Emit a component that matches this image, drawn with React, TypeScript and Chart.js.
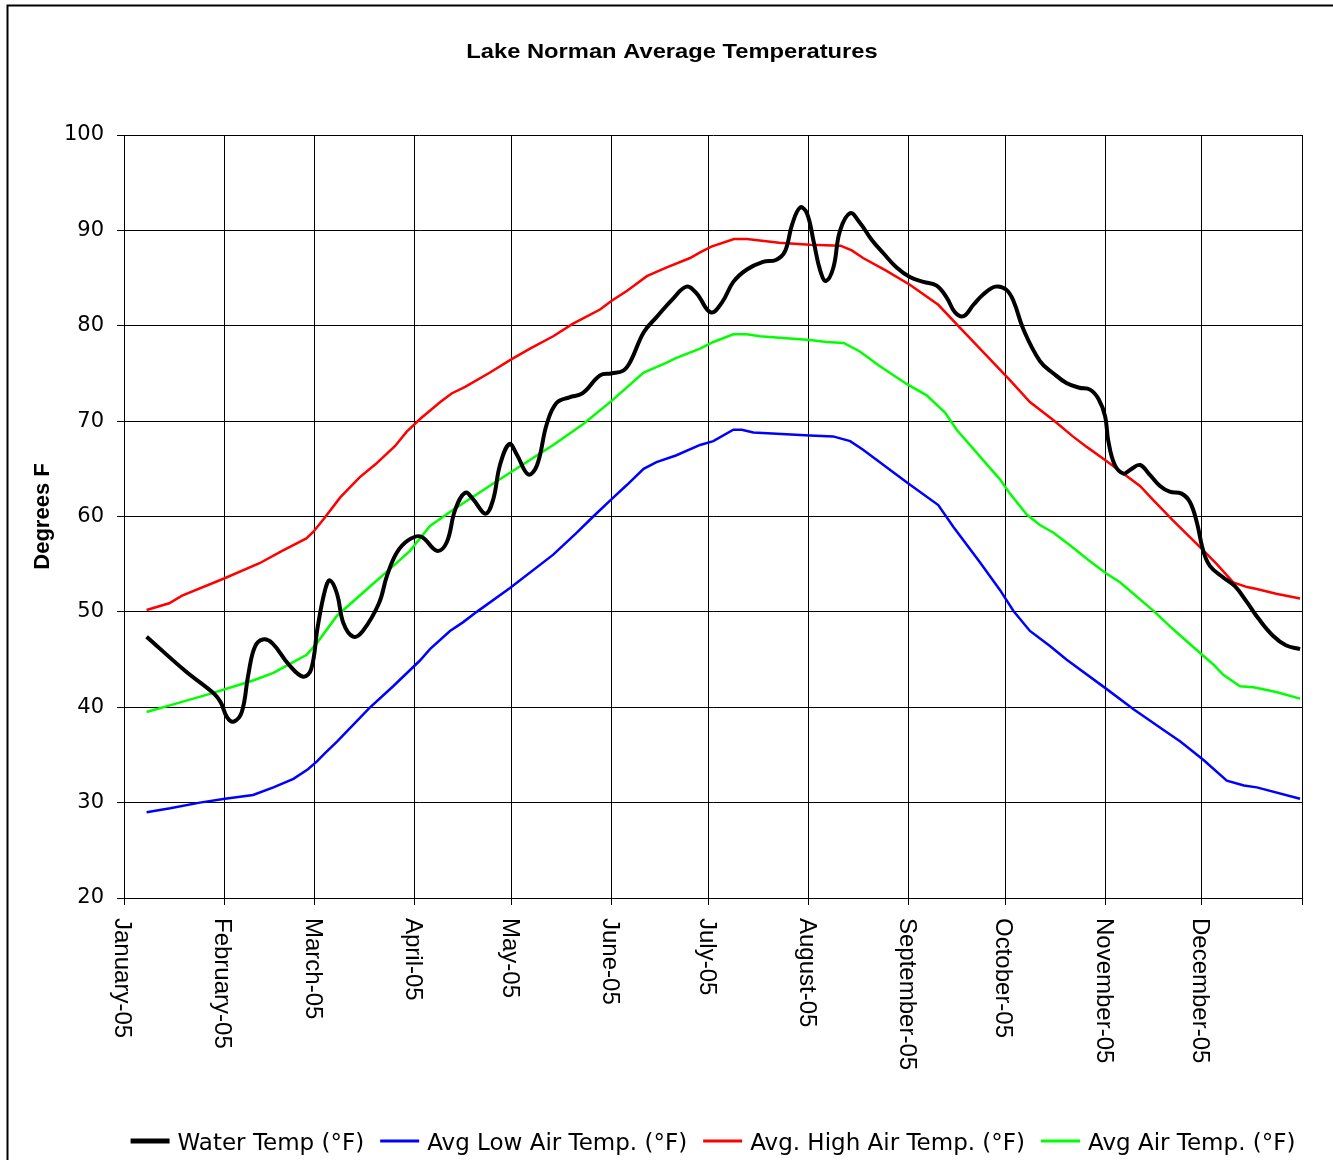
import React, { useEffect, useRef } from "react";
import { Chart, registerables } from "chart.js";

Chart.register(...registerables);

// ---- Data (day of year 2005, 0 = January 1) ----
const monthStarts = [0, 31, 59, 90, 120, 151, 181, 212, 243, 273, 304, 334, 365];
const monthLabels = [
  "January-05", "February-05", "March-05", "April-05", "May-05", "June-05",
  "July-05", "August-05", "September-05", "October-05", "November-05", "December-05", "",
];
const yTicks = [20, 30, 40, 50, 60, 70, 80, 90, 100];

const titleText = "Lake Norman Average Temperatures";
const yTitle = "Degrees F";

const waterDays = [7, 19, 28, 30, 32, 34, 36.5, 38.5, 40.5, 43, 46, 51, 55.5, 58, 60, 62.3, 63.8, 66, 68, 71, 74, 79, 81.5, 84.5, 88, 92, 97, 100, 102.6, 105.7, 108.2, 112, 114.4, 116.5, 119.4, 121.7, 125.3, 128, 131, 134, 138, 142, 147.5, 151, 154.7, 157, 161, 165, 170, 174.3, 177.4, 181.8, 185.2, 188.8, 193, 198, 202, 204.8, 207, 209.5, 211.6, 213.7, 215.7, 217.5, 219.8, 221.8, 225, 228, 231.7, 235.3, 239.4, 243.5, 247.7, 251.8, 255, 257.5, 260.1, 263.2, 266.3, 270, 273.3, 275.6, 278.7, 283.8, 288, 292, 296, 299.3, 302, 304, 305, 307, 309.7, 311.8, 314.8, 318, 321, 324, 327.7, 330.3, 332.4, 334.4, 336.5, 340.6, 344.2, 348, 351.5, 356, 360, 364.4];
const waterTemps = [47.4, 43.8, 41.4, 40.5, 38.9, 38.5, 39.5, 43.4, 46.3, 47.1, 46.7, 44.5, 43.2, 44.0, 48.4, 52.3, 53.3, 51.9, 48.8, 47.4, 48.0, 50.9, 53.8, 56.2, 57.5, 57.9, 56.4, 57.3, 60.7, 62.5, 61.8, 60.3, 61.8, 65.4, 67.6, 66.5, 64.4, 65.4, 69.7, 71.9, 72.5, 72.9, 74.8, 75.0, 75.3, 76.3, 79.3, 80.9, 82.8, 84.1, 83.4, 81.4, 82.4, 84.6, 85.9, 86.7, 86.9, 87.8, 90.6, 92.4, 91.8, 88.8, 85.8, 84.7, 86.1, 89.9, 91.8, 90.8, 89.0, 87.6, 86.1, 85.1, 84.6, 84.2, 82.9, 81.4, 81.0, 82.2, 83.3, 84.1, 83.8, 82.6, 79.6, 76.3, 75.0, 74.0, 73.5, 73.3, 72.3, 70.5, 67.9, 65.4, 64.5, 64.9, 65.4, 64.3, 63.2, 62.6, 62.4, 61.5, 59.4, 56.4, 54.8, 53.6, 52.7, 51.0, 49.3, 47.5, 46.5, 46.1];

const lowDays = [7, 14.3, 23.5, 31.3, 40, 46.3, 52.5, 57, 59.7, 62.3, 66, 76, 83.4, 91.7, 94.8, 101, 105, 109.3, 119.6, 133, 140.3, 145.4, 151, 155.8, 161, 165, 171, 178.5, 182.6, 188.8, 191.4, 195, 212.5, 219.7, 225, 229, 242.5, 252.3, 257, 265.2, 271.4, 275.6, 280.7, 287, 292, 304.5, 312.8, 323, 327.3, 334.4, 341.7, 347, 351, 364.4];
const lowTemps = [29.0, 29.4, 30.0, 30.4, 30.8, 31.6, 32.5, 33.5, 34.3, 35.2, 36.4, 39.9, 42.2, 44.9, 46.1, 48.0, 48.9, 50.0, 52.5, 56.0, 58.3, 60.0, 61.8, 63.3, 65.0, 65.7, 66.4, 67.5, 67.9, 69.1, 69.1, 68.8, 68.5, 68.4, 67.9, 67.0, 63.6, 61.2, 58.9, 55.2, 52.3, 50.1, 48.0, 46.4, 45.0, 41.9, 39.8, 37.4, 36.4, 34.5, 32.3, 31.8, 31.6, 30.4];

const highDays = [7, 14, 18, 31, 42, 49, 56.5, 58.7, 62, 67, 73, 78, 84, 87.6, 92, 98, 101.5, 105.7, 113.4, 119.6, 125.8, 133, 139, 147.5, 151, 156, 162, 168, 175.4, 178.5, 182, 189, 193, 203, 212.5, 222, 225.5, 229, 236, 243.5, 252.3, 259, 274.5, 280.7, 288, 294, 298.3, 304.5, 314.8, 319, 325, 333.4, 338.6, 343.7, 348, 351, 357, 364.4];
const highTemps = [50.2, 50.9, 51.7, 53.5, 55.1, 56.4, 57.7, 58.4, 59.8, 62.0, 64.1, 65.5, 67.4, 68.9, 70.3, 72.0, 72.9, 73.6, 75.1, 76.4, 77.6, 78.9, 80.2, 81.7, 82.6, 83.7, 85.2, 86.1, 87.1, 87.7, 88.3, 89.1, 89.1, 88.7, 88.5, 88.4, 87.9, 87.1, 85.8, 84.3, 82.2, 79.8, 74.3, 72.0, 70.1, 68.4, 67.3, 65.8, 63.2, 61.7, 59.6, 56.8, 55.0, 53.1, 52.6, 52.4, 51.9, 51.4];

const avgDays = [7, 15.3, 26.6, 38, 40, 46.3, 56.6, 59.7, 66, 77, 81.4, 88.6, 94.8, 102, 115.5, 133, 142.3, 151, 161, 168, 171, 178.5, 182.6, 188.8, 193, 197, 212.5, 217.7, 223, 228, 234, 242.5, 248.7, 254.4, 258, 271.4, 274.5, 279.7, 283.8, 288, 293, 299.3, 304.5, 308.6, 319, 325, 334.4, 337.5, 340.6, 345.8, 350, 357, 364.4];
const avgTemps = [39.5, 40.3, 41.4, 42.6, 42.8, 43.6, 45.5, 46.7, 49.6, 52.9, 54.2, 56.4, 59.0, 60.7, 63.7, 67.5, 69.7, 72.1, 75.1, 76.1, 76.6, 77.6, 78.3, 79.1, 79.1, 78.9, 78.5, 78.3, 78.2, 77.3, 75.8, 73.9, 72.7, 70.9, 69.1, 63.9, 62.4, 60.2, 59.1, 58.3, 57.0, 55.3, 54.0, 53.1, 50.1, 48.2, 45.4, 44.5, 43.4, 42.2, 42.1, 41.6, 40.9];

const seriesLabels = ["Water Temp (°F)", "Avg Low Air Temp. (°F)", "Avg. High Air Temp. (°F)", "Avg Air Temp. (°F)"];
const seriesColors = ["#000000", "#0000FF", "#FF0000", "#00FF00"];

const toPoints = (xs: number[], ys: number[]) => xs.map((x, i) => ({ x, y: ys[i] }));

const decorPlugin = {
  id: "decor",
  beforeDraw(chart: any) {
    const ctx = chart.ctx;
    ctx.save();
    ctx.fillStyle = "#ffffff";
    ctx.fillRect(0, 0, chart.width, chart.height);
    ctx.restore();
  },
  afterDraw(chart: any) {
    const { ctx, chartArea } = chart;
    // outer border
    ctx.save();
    ctx.strokeStyle = "#000";
    ctx.lineWidth = 2;
    ctx.strokeRect(7.5, 5.5, chart.width + 20, chart.height + 20);
    ctx.restore();

    // title
    ctx.save();
    ctx.fillStyle = "#000";
    ctx.font = "bold 21px 'Liberation Sans', Arial, sans-serif";
    ctx.textAlign = "center";
    ctx.textBaseline = "alphabetic";
    ctx.translate(672, 58);
    ctx.scale(1.13, 1);
    ctx.fillText(titleText, 0, 0);
    ctx.restore();

    // x tick labels, rotated to read downward
    const xs = chart.scales.x;
    monthStarts.forEach((d, i) => {
      const label = monthLabels[i];
      if (!label) return;
      const px = xs.getPixelForValue(d);
      ctx.save();
      ctx.fillStyle = "#000";
      ctx.font = "24px 'Liberation Sans', Arial, sans-serif";
      ctx.translate(px - 2, chartArea.bottom + 20);
      ctx.rotate(Math.PI / 2);
      ctx.textAlign = "left";
      ctx.textBaseline = "middle";
      ctx.fillText(label, 0, 0);
      ctx.restore();
    });

    // legend
    ctx.save();
    ctx.font = "23px 'DejaVu Sans', sans-serif";
    const lineLen = 39;
    const gapText = 8;
    const gapItem = 16;
    const ds = chart.data.datasets;
    const widths = ds.map((d: any) => lineLen + gapText + ctx.measureText(d.label).width);
    const total = widths.reduce((a: number, b: number) => a + b, 0) + gapItem * (ds.length - 1);
    let x = (chartArea.left + chartArea.right) / 2 - total / 2;
    const lineY = 1141;
    const textY = 1150;
    ds.forEach((d: any, i: number) => {
      ctx.strokeStyle = d.borderColor;
      ctx.lineWidth = i === 0 ? 5 : 3;
      ctx.beginPath();
      ctx.moveTo(x, lineY);
      ctx.lineTo(x + lineLen, lineY);
      ctx.stroke();
      ctx.fillStyle = "#000";
      ctx.textAlign = "left";
      ctx.textBaseline = "alphabetic";
      ctx.fillText(d.label, x + lineLen + gapText, textY);
      x += widths[i] + gapItem;
    });
    ctx.restore();
  },
};

export default function App() {
  const canvasRef = useRef<HTMLCanvasElement | null>(null);

  useEffect(() => {
    if (!canvasRef.current) return;
    const chart = new Chart(canvasRef.current, {
      type: "line",
      data: {
        datasets: [
          {
            label: seriesLabels[0],
            data: toPoints(waterDays, waterTemps),
            borderColor: seriesColors[0],
            borderWidth: 4,
            pointRadius: 0,
            tension: 0.4,
            fill: false,
          },
          {
            label: seriesLabels[1],
            data: toPoints(lowDays, lowTemps),
            borderColor: seriesColors[1],
            borderWidth: 2.5,
            pointRadius: 0,
            tension: 0,
            fill: false,
          },
          {
            label: seriesLabels[2],
            data: toPoints(highDays, highTemps),
            borderColor: seriesColors[2],
            borderWidth: 2.5,
            pointRadius: 0,
            tension: 0,
            fill: false,
          },
          {
            label: seriesLabels[3],
            data: toPoints(avgDays, avgTemps),
            borderColor: seriesColors[3],
            borderWidth: 2.5,
            pointRadius: 0,
            tension: 0,
            fill: false,
          },
        ],
      },
      options: {
        animation: false,
        responsive: false,
        devicePixelRatio: 1,
        layout: { padding: { top: 135, left: 0, right: 31, bottom: 255 } },
        plugins: {
          legend: { display: false },
          title: { display: false },
          tooltip: { enabled: false },
        },
        scales: {
          x: {
            type: "linear",
            min: monthStarts[0],
            max: monthStarts[monthStarts.length - 1],
            afterBuildTicks: (s: any) => {
              s.ticks = monthStarts.map((v) => ({ value: v }));
            },
            afterFit: (s: any) => {
              s.height = 7;
            },
            ticks: { display: false },
            grid: { color: "#000", lineWidth: 1, tickLength: 7, drawTicks: true },
            border: { display: true, color: "#000", width: 1 },
          },
          y: {
            type: "linear",
            min: yTicks[0],
            max: yTicks[yTicks.length - 1],
            afterBuildTicks: (s: any) => {
              s.ticks = yTicks.map((v) => ({ value: v }));
            },
            afterFit: (s: any) => {
              s.width = 124;
            },
            ticks: {
              color: "#000",
              padding: 13,
              font: { family: "'DejaVu Sans', sans-serif", size: 21 },
            },
            grid: { color: "#000", lineWidth: 1, tickLength: 7, drawTicks: true },
            border: { display: true, color: "#000", width: 1 },
            title: {
              display: true,
              text: yTitle,
              color: "#000",
              padding: { top: 30, bottom: 0 },
              font: { family: "'Liberation Sans', Arial, sans-serif", size: 22, weight: "bold" },
            },
          },
        },
      },
      plugins: [decorPlugin],
    } as any);
    return () => chart.destroy();
  }, []);

  return (
    <div style={{ position: "absolute", left: 0, top: 0, width: 1333, height: 1160 }}>
      <canvas ref={canvasRef} width={1333} height={1160} style={{ display: "block" }} />
    </div>
  );
}
